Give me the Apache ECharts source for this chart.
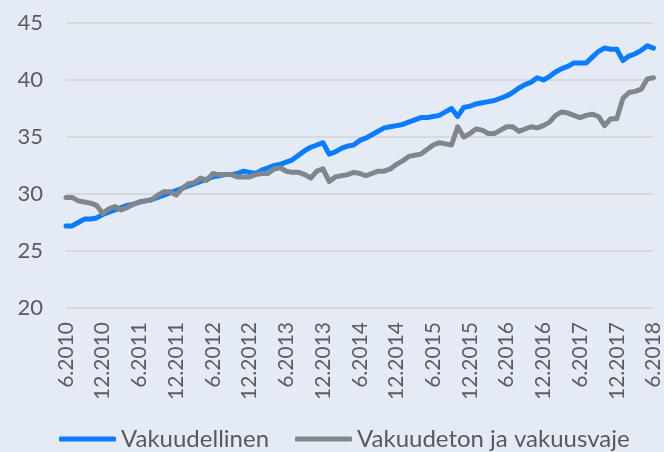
<!DOCTYPE html>
<html><head><meta charset="utf-8">
<script src="https://cdn.jsdelivr.net/npm/echarts@6/dist/echarts.min.js"></script>
<style>html,body{margin:0;padding:0;background:#e5ebf5;}#c{width:664px;height:452px;}</style>
</head><body><div id="c"></div>
<script>
var startMonth = 6, startYear = 2010, monthCount = 97;
var categories = [];
for (var k = 0; k < monthCount; k++) {
  var m = (startMonth - 1 + k) % 12 + 1;
  var y = startYear + Math.floor((startMonth - 1 + k) / 12);
  categories.push(m + '.' + y);
}
var seriesNames = ['Vakuudellinen', 'Vakuudeton ja vakuusvaje'];
var vakuudellinen = [27.2,27.2,27.5,27.8,27.8,27.9,28.2,28.4,28.6,28.8,29.0,29.1,29.3,29.4,29.5,29.7,29.9,30.1,30.3,30.5,30.7,30.9,31.1,31.3,31.5,31.6,31.7,31.7,31.8,32.0,31.9,31.8,32.1,32.3,32.5,32.6,32.8,33.0,33.4,33.8,34.1,34.3,34.5,33.5,33.7,34.0,34.2,34.3,34.7,34.9,35.2,35.5,35.8,35.9,36.0,36.1,36.3,36.5,36.7,36.7,36.8,36.9,37.2,37.5,36.8,37.6,37.7,37.9,38.0,38.1,38.2,38.4,38.6,38.9,39.3,39.6,39.8,40.2,40.0,40.3,40.7,41.0,41.2,41.5,41.5,41.5,42.0,42.5,42.8,42.7,42.7,41.7,42.1,42.3,42.6,43.0,42.8];
var vakuudeton = [29.7,29.7,29.4,29.3,29.2,29.0,28.3,28.7,28.9,28.6,28.8,29.1,29.3,29.4,29.5,29.9,30.2,30.2,29.9,30.5,30.9,31.0,31.4,31.2,31.8,31.7,31.7,31.7,31.5,31.5,31.5,31.7,31.8,31.8,32.2,32.3,32.0,31.9,31.9,31.7,31.4,32.0,32.2,31.1,31.5,31.6,31.7,31.9,31.8,31.6,31.8,32.0,32.0,32.2,32.6,32.9,33.3,33.4,33.5,33.9,34.3,34.5,34.4,34.3,35.9,35.0,35.3,35.7,35.6,35.3,35.3,35.6,35.9,35.9,35.5,35.7,35.9,35.8,36.0,36.3,36.9,37.2,37.1,36.9,36.7,36.9,37.0,36.8,36.0,36.6,36.6,38.4,38.9,39.0,39.2,40.1,40.2];
var yTicks = [20, 25, 30, 35, 40, 45];

var chart = echarts.init(document.getElementById('c'), null, {renderer: 'canvas'});
var font = 'Lato';
chart.setOption({
  backgroundColor: '#e5ebf5',
  animation: false,
  grid: {left: 66, right: 5, top: 23, bottom: 144, containLabel: false},
  legend: {
    data: seriesNames,
    top: 427,
    left: 59,
    padding: 0,
    itemWidth: 57,
    itemHeight: 5,
    itemGap: 26,
    icon: 'roundRect',
    textStyle: {fontFamily: font, fontSize: 24, lineHeight: 24, color: '#555a5e'}
  },
  xAxis: {
    type: 'category',
    data: categories,
    boundaryGap: false,
    axisLine: {show: false},
    axisTick: {show: false},
    axisLabel: {
      interval: 5,
      rotate: 90,
      margin: 14,
      fontFamily: font,
      fontSize: 21,
      color: '#595d61'
    },
    splitLine: {show: false}
  },
  yAxis: {
    type: 'value',
    min: yTicks[0],
    max: yTicks[yTicks.length - 1],
    interval: 5,
    axisLine: {show: false},
    axisTick: {show: false},
    axisLabel: {margin: 23, fontFamily: font, fontSize: 22, color: '#595d61'},
    splitLine: {lineStyle: {color: '#d6d9de', width: 2}}
  },
  series: [
    {
      name: seriesNames[0], type: 'line', data: vakuudellinen,
      showSymbol: false, symbol: 'none',
      lineStyle: {color: '#0a7dff', width: 5, cap: 'round', join: 'round'},
      itemStyle: {color: '#0a7dff'}
    },
    {
      name: seriesNames[1], type: 'line', data: vakuudeton,
      showSymbol: false, symbol: 'none',
      lineStyle: {color: '#7f878c', width: 5, cap: 'round', join: 'round'},
      itemStyle: {color: '#7f878c'}
    }
  ]
});
</script></body></html>
